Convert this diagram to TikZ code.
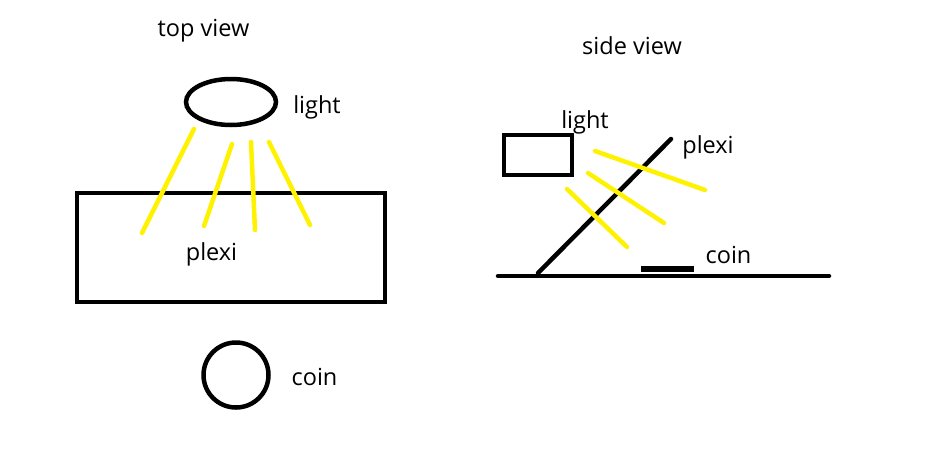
\documentclass[tikz,border=0pt]{standalone}
\usepackage{fontspec}
\setmainfont{Open Sans}
\definecolor{rayyellow}{rgb}{1, 0.95, 0}
\tikzset{
	outline/.style={black, line width=4.5pt},
	stroke/.style={black, line width=4.5pt, line cap=round},
	ray/.style={rayyellow, line width=4.5pt, line cap=round},
	lbl/.style={inner sep=0pt, font=\fontsize{23.5}{26}\selectfont}
}
\begin{document}
\begin{tikzpicture}[x=1pt, y=-1pt]
	\useasboundingbox (0,0) rectangle (925,464);
	% top view
	\node [lbl] (topview) at (203.5,31) {top view};
	\draw [outline] (231,102) ellipse [x radius=45, y radius=23];
	\node [lbl] (toplight) at (317,107) {light};
	\draw [outline] (77,193) rectangle (385,302);
	\node [lbl] (topplexi) at (211.5,254) {plexi};
	\draw [outline] (236,375) circle (32.5);
	\node [lbl] (topcoin) at (314.5,377) {coin};
	\foreach \a/\b/\c/\d in {194/129/142/233, 232/144/204/226, 251/142/255/230, 269/142/310/225}{
		\draw [ray] (\a,\b)--(\c,\d);
	}
	% side view
	\node [lbl] (sideview) at (632,46) {side view};
	\draw [outline] (504,135) rectangle (572,175);
	\node [lbl] (sidelight) at (585,122) {light};
	\draw [stroke] (538,273)--(671,139);
	\node [lbl] (sideplexi) at (708,147) {plexi};
	\draw [stroke] (498,276)--(829,276);
	\draw [black, line width=6pt] (641,268.5)--(694,268.5);
	\node [lbl] (sidecoin) at (728.5,255) {coin};
	\foreach \a/\b/\c/\d in {595/151/705/190, 588/173/664/223, 567/189/627/247}{
		\draw [ray] (\a,\b)--(\c,\d);
	}
\end{tikzpicture}
\end{document}
